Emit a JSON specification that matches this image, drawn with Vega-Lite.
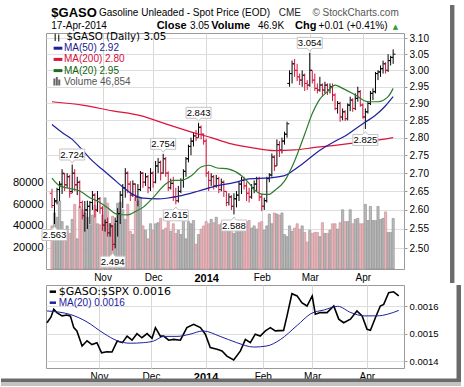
{
"$schema":"https://vega.github.io/schema/vega-lite/v6.json",
"padding":0,"spacing":0,"background":"white",
"config":{"font":"Liberation Sans","view":{"stroke":"#9a9a9a","strokeWidth":1},"axis":{"labelColor":"#000","tickColor":"#9a9a9a","gridColor":"#dedede","domain":false}},
"datasets":{
"bars":[
{"i":0,"o":2.645,"h":2.657,"l":2.605,"c":2.612,"v":40000,"d":"dn"},
{"i":1,"o":2.612,"h":2.632,"l":2.563,"c":2.625,"v":52000,"d":"up"},
{"i":2,"o":2.622,"h":2.66,"l":2.615,"c":2.655,"v":48000,"d":"up"},
{"i":3,"o":2.655,"h":2.678,"l":2.624,"c":2.67,"v":63000,"d":"up"},
{"i":4,"o":2.668,"h":2.711,"l":2.643,"c":2.7,"v":44000,"d":"up"},
{"i":5,"o":2.698,"h":2.7,"l":2.651,"c":2.668,"v":36000,"d":"dn"},
{"i":6,"o":2.668,"h":2.7,"l":2.66,"c":2.69,"v":40000,"d":"up"},
{"i":7,"o":2.69,"h":2.695,"l":2.633,"c":2.645,"v":33000,"d":"dn"},
{"i":8,"o":2.65,"h":2.724,"l":2.645,"c":2.7,"v":46000,"d":"up"},
{"i":9,"o":2.7,"h":2.711,"l":2.651,"c":2.668,"v":60000,"d":"dn"},
{"i":10,"o":2.668,"h":2.69,"l":2.64,"c":2.675,"v":28000,"d":"up"},
{"i":11,"o":2.675,"h":2.68,"l":2.605,"c":2.62,"v":58000,"d":"dn"},
{"i":12,"o":2.62,"h":2.625,"l":2.575,"c":2.585,"v":55000,"d":"dn"},
{"i":13,"o":2.585,"h":2.624,"l":2.543,"c":2.6,"v":52000,"d":"up"},
{"i":14,"o":2.6,"h":2.625,"l":2.55,"c":2.61,"v":48000,"d":"up"},
{"i":15,"o":2.61,"h":2.624,"l":2.563,"c":2.62,"v":41000,"d":"up"},
{"i":16,"o":2.62,"h":2.651,"l":2.6,"c":2.64,"v":50000,"d":"up"},
{"i":17,"o":2.64,"h":2.645,"l":2.58,"c":2.6,"v":59000,"d":"dn"},
{"i":18,"o":2.6,"h":2.651,"l":2.595,"c":2.63,"v":42000,"d":"up"},
{"i":19,"o":2.63,"h":2.635,"l":2.59,"c":2.605,"v":41000,"d":"dn"},
{"i":20,"o":2.605,"h":2.61,"l":2.545,"c":2.56,"v":50000,"d":"dn"},
{"i":21,"o":2.56,"h":2.575,"l":2.543,"c":2.567,"v":66000,"d":"up"},
{"i":22,"o":2.567,"h":2.58,"l":2.53,"c":2.54,"v":61000,"d":"dn"},
{"i":23,"o":2.54,"h":2.565,"l":2.53,"c":2.558,"v":42000,"d":"up"},
{"i":24,"o":2.555,"h":2.56,"l":2.494,"c":2.51,"v":49000,"d":"dn"},
{"i":25,"o":2.51,"h":2.58,"l":2.5,"c":2.57,"v":42000,"d":"up"},
{"i":26,"o":2.57,"h":2.605,"l":2.53,"c":2.59,"v":61000,"d":"up"},
{"i":27,"o":2.59,"h":2.651,"l":2.563,"c":2.64,"v":62000,"d":"up"},
{"i":28,"o":2.64,"h":2.67,"l":2.605,"c":2.66,"v":55000,"d":"up"},
{"i":29,"o":2.66,"h":2.714,"l":2.633,"c":2.7,"v":46000,"d":"up"},
{"i":30,"o":2.7,"h":2.705,"l":2.645,"c":2.67,"v":60000,"d":"dn"},
{"i":31,"o":2.67,"h":2.678,"l":2.624,"c":2.64,"v":35000,"d":"dn"},
{"i":32,"o":2.64,"h":2.68,"l":2.635,"c":2.67,"v":32000,"d":"up"},
{"i":33,"o":2.67,"h":2.672,"l":2.624,"c":2.635,"v":66000,"d":"dn"},
{"i":34,"o":2.635,"h":2.67,"l":2.61,"c":2.655,"v":63000,"d":"up"},
{"i":35,"o":2.655,"h":2.706,"l":2.651,"c":2.7,"v":66000,"d":"up"},
{"i":36,"o":2.7,"h":2.703,"l":2.66,"c":2.675,"v":40000,"d":"dn"},
{"i":37,"o":2.675,"h":2.7,"l":2.665,"c":2.69,"v":36000,"d":"up"},
{"i":38,"o":2.69,"h":2.695,"l":2.645,"c":2.66,"v":28000,"d":"dn"},
{"i":39,"o":2.66,"h":2.714,"l":2.651,"c":2.7,"v":42000,"d":"up"},
{"i":40,"o":2.7,"h":2.705,"l":2.66,"c":2.675,"v":36000,"d":"dn"},
{"i":41,"o":2.675,"h":2.734,"l":2.672,"c":2.72,"v":42000,"d":"up"},
{"i":42,"o":2.72,"h":2.742,"l":2.7,"c":2.73,"v":43000,"d":"up"},
{"i":43,"o":2.73,"h":2.735,"l":2.68,"c":2.7,"v":47000,"d":"dn"},
{"i":44,"o":2.7,"h":2.754,"l":2.698,"c":2.74,"v":36000,"d":"up"},
{"i":45,"o":2.74,"h":2.745,"l":2.69,"c":2.7,"v":38000,"d":"dn"},
{"i":46,"o":2.7,"h":2.705,"l":2.651,"c":2.66,"v":45000,"d":"dn"},
{"i":47,"o":2.66,"h":2.685,"l":2.655,"c":2.672,"v":35000,"d":"up"},
{"i":48,"o":2.672,"h":2.69,"l":2.624,"c":2.635,"v":42000,"d":"dn"},
{"i":49,"o":2.635,"h":2.66,"l":2.615,"c":2.625,"v":33000,"d":"dn"},
{"i":50,"o":2.625,"h":2.665,"l":2.62,"c":2.65,"v":36000,"d":"up"},
{"i":51,"o":2.65,"h":2.686,"l":2.645,"c":2.68,"v":32000,"d":"up"},
{"i":52,"o":2.68,"h":2.711,"l":2.66,"c":2.705,"v":48000,"d":"up"},
{"i":53,"o":2.705,"h":2.745,"l":2.69,"c":2.74,"v":28000,"d":"up"},
{"i":54,"o":2.74,"h":2.78,"l":2.73,"c":2.775,"v":44000,"d":"up"},
{"i":55,"o":2.775,"h":2.8,"l":2.75,"c":2.79,"v":42000,"d":"up"},
{"i":56,"o":2.79,"h":2.815,"l":2.775,"c":2.805,"v":45000,"d":"up"},
{"i":57,"o":2.805,"h":2.822,"l":2.79,"c":2.8,"v":23000,"d":"dn"},
{"i":58,"o":2.8,"h":2.843,"l":2.8,"c":2.83,"v":32000,"d":"up"},
{"i":59,"o":2.83,"h":2.835,"l":2.795,"c":2.81,"v":37000,"d":"dn"},
{"i":60,"o":2.81,"h":2.812,"l":2.78,"c":2.79,"v":40000,"d":"dn"},
{"i":61,"o":2.79,"h":2.797,"l":2.69,"c":2.7,"v":44000,"d":"dn"},
{"i":62,"o":2.7,"h":2.706,"l":2.651,"c":2.68,"v":42000,"d":"dn"},
{"i":63,"o":2.68,"h":2.7,"l":2.665,"c":2.69,"v":46000,"d":"up"},
{"i":64,"o":2.69,"h":2.695,"l":2.655,"c":2.665,"v":43000,"d":"dn"},
{"i":65,"o":2.665,"h":2.695,"l":2.66,"c":2.685,"v":48000,"d":"up"},
{"i":66,"o":2.685,"h":2.69,"l":2.645,"c":2.655,"v":41000,"d":"dn"},
{"i":67,"o":2.655,"h":2.685,"l":2.65,"c":2.675,"v":42000,"d":"up"},
{"i":68,"o":2.675,"h":2.68,"l":2.635,"c":2.65,"v":40000,"d":"dn"},
{"i":69,"o":2.65,"h":2.651,"l":2.61,"c":2.62,"v":38000,"d":"dn"},
{"i":70,"o":2.62,"h":2.645,"l":2.612,"c":2.635,"v":40000,"d":"up"},
{"i":71,"o":2.635,"h":2.64,"l":2.6,"c":2.61,"v":36000,"d":"dn"},
{"i":72,"o":2.61,"h":2.645,"l":2.588,"c":2.63,"v":33000,"d":"up"},
{"i":73,"o":2.63,"h":2.651,"l":2.607,"c":2.64,"v":39000,"d":"up"},
{"i":74,"o":2.64,"h":2.678,"l":2.624,"c":2.67,"v":42000,"d":"up"},
{"i":75,"o":2.67,"h":2.69,"l":2.643,"c":2.68,"v":38000,"d":"up"},
{"i":76,"o":2.68,"h":2.69,"l":2.655,"c":2.665,"v":40000,"d":"dn"},
{"i":77,"o":2.665,"h":2.675,"l":2.624,"c":2.645,"v":44000,"d":"dn"},
{"i":78,"o":2.645,"h":2.66,"l":2.62,"c":2.635,"v":45000,"d":"dn"},
{"i":79,"o":2.635,"h":2.67,"l":2.63,"c":2.66,"v":38000,"d":"up"},
{"i":80,"o":2.66,"h":2.68,"l":2.645,"c":2.67,"v":40000,"d":"up"},
{"i":81,"o":2.67,"h":2.69,"l":2.651,"c":2.685,"v":37000,"d":"up"},
{"i":82,"o":2.685,"h":2.69,"l":2.624,"c":2.635,"v":43000,"d":"dn"},
{"i":83,"o":2.635,"h":2.643,"l":2.597,"c":2.61,"v":44000,"d":"dn"},
{"i":84,"o":2.61,"h":2.633,"l":2.6,"c":2.625,"v":36000,"d":"up"},
{"i":85,"o":2.625,"h":2.69,"l":2.62,"c":2.685,"v":40000,"d":"up"},
{"i":86,"o":2.685,"h":2.7,"l":2.675,"c":2.695,"v":51000,"d":"up"},
{"i":87,"o":2.695,"h":2.755,"l":2.69,"c":2.745,"v":42000,"d":"up"},
{"i":88,"o":2.745,"h":2.75,"l":2.706,"c":2.72,"v":52000,"d":"dn"},
{"i":89,"o":2.72,"h":2.795,"l":2.72,"c":2.78,"v":51000,"d":"up"},
{"i":90,"o":2.78,"h":2.79,"l":2.745,"c":2.765,"v":50000,"d":"dn"},
{"i":91,"o":2.765,"h":2.8,"l":2.755,"c":2.79,"v":52000,"d":"up"},
{"i":92,"o":2.79,"h":2.817,"l":2.78,"c":2.81,"v":32000,"d":"up"},
{"i":93,"o":2.81,"h":2.846,"l":2.8,"c":2.84,"v":30000,"d":"up"},
{"i":94,"o":2.96,"h":3.0,"l":2.95,"c":2.99,"v":40000,"d":"up"},
{"i":95,"o":2.99,"h":3.03,"l":2.96,"c":3.02,"v":35000,"d":"up"},
{"i":96,"o":3.02,"h":3.035,"l":2.98,"c":3.0,"v":38000,"d":"dn"},
{"i":97,"o":3.0,"h":3.02,"l":2.967,"c":2.98,"v":42000,"d":"dn"},
{"i":98,"o":2.98,"h":2.99,"l":2.955,"c":2.97,"v":37000,"d":"dn"},
{"i":99,"o":2.97,"h":3.0,"l":2.95,"c":2.985,"v":40000,"d":"up"},
{"i":100,"o":2.985,"h":2.99,"l":2.937,"c":2.96,"v":34000,"d":"dn"},
{"i":101,"o":2.96,"h":2.97,"l":2.94,"c":2.955,"v":25000,"d":"dn"},
{"i":102,"o":2.955,"h":3.054,"l":2.95,"c":3.0,"v":36000,"d":"up"},
{"i":103,"o":3.0,"h":3.0,"l":2.96,"c":2.97,"v":33000,"d":"dn"},
{"i":104,"o":2.97,"h":2.99,"l":2.937,"c":2.945,"v":34000,"d":"dn"},
{"i":105,"o":2.945,"h":2.96,"l":2.93,"c":2.94,"v":34000,"d":"dn"},
{"i":106,"o":2.94,"h":2.98,"l":2.935,"c":2.955,"v":30000,"d":"up"},
{"i":107,"o":2.955,"h":2.96,"l":2.92,"c":2.94,"v":43000,"d":"dn"},
{"i":108,"o":2.94,"h":2.965,"l":2.93,"c":2.955,"v":33000,"d":"up"},
{"i":109,"o":2.955,"h":2.96,"l":2.925,"c":2.94,"v":33000,"d":"dn"},
{"i":110,"o":2.94,"h":2.96,"l":2.93,"c":2.95,"v":36000,"d":"up"},
{"i":111,"o":2.95,"h":2.96,"l":2.907,"c":2.925,"v":42000,"d":"dn"},
{"i":112,"o":2.925,"h":2.93,"l":2.88,"c":2.885,"v":42000,"d":"dn"},
{"i":113,"o":2.885,"h":2.907,"l":2.87,"c":2.9,"v":37000,"d":"up"},
{"i":114,"o":2.9,"h":2.905,"l":2.846,"c":2.86,"v":43000,"d":"dn"},
{"i":115,"o":2.86,"h":2.885,"l":2.85,"c":2.875,"v":55000,"d":"up"},
{"i":116,"o":2.875,"h":2.88,"l":2.848,"c":2.855,"v":44000,"d":"dn"},
{"i":117,"o":2.855,"h":2.9,"l":2.85,"c":2.895,"v":44000,"d":"up"},
{"i":118,"o":2.895,"h":2.92,"l":2.877,"c":2.91,"v":55000,"d":"up"},
{"i":119,"o":2.91,"h":2.915,"l":2.875,"c":2.885,"v":42000,"d":"dn"},
{"i":120,"o":2.885,"h":2.93,"l":2.88,"c":2.915,"v":46000,"d":"up"},
{"i":121,"o":2.915,"h":2.95,"l":2.905,"c":2.935,"v":47000,"d":"up"},
{"i":122,"o":2.935,"h":2.94,"l":2.89,"c":2.895,"v":42000,"d":"dn"},
{"i":123,"o":2.895,"h":2.9,"l":2.855,"c":2.86,"v":42000,"d":"dn"},
{"i":124,"o":2.86,"h":2.885,"l":2.825,"c":2.875,"v":60000,"d":"up"},
{"i":125,"o":2.875,"h":2.907,"l":2.87,"c":2.9,"v":45000,"d":"up"},
{"i":126,"o":2.9,"h":2.937,"l":2.895,"c":2.93,"v":58000,"d":"up"},
{"i":127,"o":2.93,"h":2.945,"l":2.91,"c":2.935,"v":45000,"d":"up"},
{"i":128,"o":2.935,"h":2.995,"l":2.93,"c":2.99,"v":45000,"d":"up"},
{"i":129,"o":2.99,"h":3.0,"l":2.97,"c":2.995,"v":58000,"d":"up"},
{"i":130,"o":2.995,"h":3.015,"l":2.98,"c":3.005,"v":46000,"d":"up"},
{"i":131,"o":3.005,"h":3.03,"l":2.99,"c":3.02,"v":47000,"d":"up"},
{"i":132,"o":3.02,"h":3.025,"l":2.99,"c":3.0,"v":53000,"d":"dn"},
{"i":133,"o":3.0,"h":3.05,"l":2.995,"c":3.03,"v":34000,"d":"up"},
{"i":134,"o":3.03,"h":3.045,"l":3.015,"c":3.04,"v":34000,"d":"up"},
{"i":135,"o":3.04,"h":3.065,"l":3.02,"c":3.05,"v":46854,"d":"up"}
],
"ma":[
{"s":"ma200","i":0,"v":2.905},{"s":"ma200","i":12,"v":2.895},{"s":"ma200","i":24,"v":2.878},{"s":"ma200","i":35,"v":2.864},{"s":"ma200","i":45,"v":2.84},{"s":"ma200","i":54,"v":2.819},{"s":"ma200","i":63,"v":2.8},{"s":"ma200","i":71,"v":2.782},{"s":"ma200","i":80,"v":2.77},{"s":"ma200","i":88,"v":2.763},{"s":"ma200","i":96,"v":2.765},{"s":"ma200","i":104,"v":2.772},{"s":"ma200","i":112,"v":2.778},{"s":"ma200","i":120,"v":2.785},{"s":"ma200","i":128,"v":2.792},{"s":"ma200","i":135,"v":2.8},
{"s":"ma50","i":0,"v":2.838},{"s":"ma50","i":4,"v":2.815},{"s":"ma50","i":8,"v":2.795},{"s":"ma50","i":12,"v":2.765},{"s":"ma50","i":16,"v":2.734},{"s":"ma50","i":20,"v":2.71},{"s":"ma50","i":24,"v":2.686},{"s":"ma50","i":28,"v":2.662},{"s":"ma50","i":32,"v":2.642},{"s":"ma50","i":36,"v":2.632},{"s":"ma50","i":42,"v":2.63},{"s":"ma50","i":50,"v":2.637},{"s":"ma50","i":58,"v":2.651},{"s":"ma50","i":65,"v":2.665},{"s":"ma50","i":72,"v":2.674},{"s":"ma50","i":78,"v":2.684},{"s":"ma50","i":86,"v":2.687},{"s":"ma50","i":92,"v":2.693},{"s":"ma50","i":95,"v":2.705},{"s":"ma50","i":98,"v":2.72},{"s":"ma50","i":102,"v":2.742},{"s":"ma50","i":106,"v":2.764},{"s":"ma50","i":112,"v":2.79},{"s":"ma50","i":116,"v":2.805},{"s":"ma50","i":120,"v":2.825},{"s":"ma50","i":124,"v":2.845},{"s":"ma50","i":128,"v":2.865},{"s":"ma50","i":132,"v":2.893},{"s":"ma50","i":135,"v":2.92},
{"s":"ma20","i":0,"v":2.686},{"s":"ma20","i":3,"v":2.665},{"s":"ma20","i":7,"v":2.658},{"s":"ma20","i":11,"v":2.651},{"s":"ma20","i":15,"v":2.633},{"s":"ma20","i":18,"v":2.624},{"s":"ma20","i":22,"v":2.606},{"s":"ma20","i":26,"v":2.588},{"s":"ma20","i":30,"v":2.587},{"s":"ma20","i":33,"v":2.596},{"s":"ma20","i":36,"v":2.607},{"s":"ma20","i":40,"v":2.633},{"s":"ma20","i":45,"v":2.67},{"s":"ma20","i":48,"v":2.68},{"s":"ma20","i":51,"v":2.68},{"s":"ma20","i":55,"v":2.692},{"s":"ma20","i":59,"v":2.717},{"s":"ma20","i":62,"v":2.722},{"s":"ma20","i":65,"v":2.715},{"s":"ma20","i":70,"v":2.711},{"s":"ma20","i":75,"v":2.693},{"s":"ma20","i":78,"v":2.672},{"s":"ma20","i":80,"v":2.655},{"s":"ma20","i":84,"v":2.642},{"s":"ma20","i":86,"v":2.642},{"s":"ma20","i":88,"v":2.652},{"s":"ma20","i":92,"v":2.678},{"s":"ma20","i":96,"v":2.734},{"s":"ma20","i":100,"v":2.81},{"s":"ma20","i":103,"v":2.87},{"s":"ma20","i":106,"v":2.913},{"s":"ma20","i":109,"v":2.935},{"s":"ma20","i":112,"v":2.955},{"s":"ma20","i":115,"v":2.945},{"s":"ma20","i":120,"v":2.925},{"s":"ma20","i":125,"v":2.905},{"s":"ma20","i":129,"v":2.905},{"s":"ma20","i":133,"v":2.92},{"s":"ma20","i":135,"v":2.945}
],
"notes":[
{"i":1,"p":2.563,"k":"lo"},{"i":8,"p":2.724,"k":"hi"},{"i":24,"p":2.494,"k":"lo"},{"i":44,"p":2.754,"k":"hi"},{"i":49,"p":2.615,"k":"lo"},{"i":58,"p":2.843,"k":"hi"},{"i":72,"p":2.588,"k":"lo"},{"i":102,"p":3.054,"k":"hi"},{"i":124,"p":2.825,"k":"lo"}
],
"ratio":[
{"i":0,"v":0.00154},{"i":1.5,"v":0.00156},{"i":2.6,"v":0.001589},{"i":3.8,"v":0.001577},{"i":5.8,"v":0.001565},{"i":7.7,"v":0.001568},{"i":9,"v":0.001564},{"i":10.3,"v":0.001522},{"i":11.5,"v":0.00151},{"i":13.5,"v":0.001455},{"i":15.4,"v":0.001474},{"i":17.3,"v":0.00146},{"i":19.2,"v":0.001467},{"i":21,"v":0.00143},{"i":23,"v":0.001434},{"i":25,"v":0.001433},{"i":27,"v":0.001473},{"i":29,"v":0.001467},{"i":30.8,"v":0.001491},{"i":32.7,"v":0.001476},{"i":34.6,"v":0.0015},{"i":36.5,"v":0.001485},{"i":38.5,"v":0.0015},{"i":40.4,"v":0.001483},{"i":41.7,"v":0.001522},{"i":43.6,"v":0.001491},{"i":44.9,"v":0.001491},{"i":46.8,"v":0.001476},{"i":48.7,"v":0.001479},{"i":51.3,"v":0.001476},{"i":53.8,"v":0.001522},{"i":56.4,"v":0.001534},{"i":59,"v":0.001522},{"i":60.9,"v":0.001498},{"i":62.8,"v":0.001449},{"i":65.4,"v":0.001443},{"i":67.3,"v":0.001437},{"i":69.2,"v":0.001418},{"i":71.8,"v":0.001404},{"i":74.4,"v":0.001437},{"i":76.3,"v":0.001479},{"i":78.2,"v":0.001467},{"i":80.1,"v":0.001498},{"i":82,"v":0.001491},{"i":84,"v":0.00151},{"i":85.9,"v":0.001522},{"i":87.8,"v":0.00151},{"i":91,"v":0.001512},{"i":92.3,"v":0.001564},{"i":94.2,"v":0.001646},{"i":96.2,"v":0.001638},{"i":98,"v":0.001613},{"i":100,"v":0.001601},{"i":102,"v":0.001638},{"i":103.2,"v":0.001571},{"i":105.1,"v":0.001577},{"i":107.7,"v":0.001577},{"i":110.3,"v":0.001601},{"i":112.2,"v":0.001553},{"i":114.1,"v":0.00154},{"i":116.7,"v":0.001553},{"i":119.2,"v":0.001583},{"i":121.2,"v":0.001565},{"i":123.1,"v":0.001516},{"i":124.4,"v":0.001512},{"i":126.3,"v":0.001558},{"i":128.2,"v":0.001601},{"i":129.5,"v":0.001607},{"i":131.4,"v":0.00165},{"i":133.3,"v":0.001653},{"i":135.3,"v":0.001638}
],
"ratioma":[
{"i":0,"v":0.001583},{"i":9,"v":0.00157},{"i":15,"v":0.001545},{"i":22,"v":0.0015},{"i":27,"v":0.001474},{"i":32,"v":0.001465},{"i":37,"v":0.001467},{"i":41,"v":0.001473},{"i":45,"v":0.00149},{"i":50,"v":0.00149},{"i":55,"v":0.001498},{"i":60,"v":0.00151},{"i":66.6,"v":0.00149},{"i":73,"v":0.001467},{"i":79.5,"v":0.001451},{"i":84.6,"v":0.001455},{"i":89.7,"v":0.001478},{"i":96.2,"v":0.00153},{"i":101.5,"v":0.001573},{"i":106.7,"v":0.001587},{"i":111.8,"v":0.0016},{"i":116.9,"v":0.001577},{"i":122,"v":0.001565},{"i":127,"v":0.001565},{"i":131,"v":0.001571},{"i":135.3,"v":0.001585}
]
},
"vconcat":[
{
"width":358,"height":236,
"resolve":{"scale":{"y":"independent"}},
"layer":[
{"data":{"name":"bars"},
 "mark":{"type":"bar","width":2.2,"strokeWidth":0.6},
 "encoding":{
  "x":{"field":"i","type":"quantitative","title":null,"scale":{"domain":[-0.3846,137.3077],"nice":false,"zero":false},
   "axis":{"values":[20,40,61,83,102,123],"labelExpr":"datum.value==20?'Nov':datum.value==40?'Dec':datum.value==61?'2014':datum.value==83?'Feb':datum.value==102?'Mar':'Apr'","labelFontSize":{"condition":{"test":"datum.value==61","value":11},"value":10},"labelFontWeight":{"condition":{"test":"datum.value==61","value":"bold"},"value":"normal"},"ticks":false,"labelPadding":3,"grid":true,"gridColor":"#d8d8d8","minExtent":13,"maxExtent":13,"title":null}},
  "y":{"field":"v","type":"quantitative","title":null,"scale":{"domain":[0,219000],"nice":false},
   "axis":{"orient":"left","values":[20000,40000,60000,80000],"format":"d","grid":false,"ticks":false,"labelPadding":3,"minExtent":45,"maxExtent":45,"labelFontSize":11,"title":null}},
  "fill":{"condition":{"test":"datum.d==='dn'","value":"#e7b6bb"},"value":"#bababa"},
  "stroke":{"condition":{"test":"datum.d==='dn'","value":"#c98b93"},"value":"#8c8c8c"}
 }},
{"layer":[
 {"data":{"name":"bars"},"mark":{"type":"rule","strokeWidth":1},
  "encoding":{
   "x":{"field":"i","type":"quantitative","title":null},
   "y":{"field":"l","type":"quantitative","title":null,"scale":{"type":"log","domain":[2.4475,3.1169],"nice":false},
    "axis":{"orient":"right","values":[2.5,2.55,2.6,2.65,2.7,2.75,2.8,2.85,2.9,2.95,3.0,3.05,3.1],"format":".2f","grid":true,"tickSize":3,"labelPadding":2,"labelFontSize":10,"title":null}},
   "y2":{"field":"h"},
   "color":{"condition":{"test":"datum.d==='dn'","value":"#d4143c"},"value":"#000000"}}},
 {"data":{"name":"bars"},"mark":{"type":"tick","orient":"horizontal","size":2,"thickness":1,"xOffset":-1.3,"opacity":1},
  "encoding":{"x":{"field":"i","type":"quantitative","title":null},"y":{"field":"o","type":"quantitative","title":null},
   "color":{"condition":{"test":"datum.d==='dn'","value":"#d4143c"},"value":"#000000"}}},
 {"data":{"name":"bars"},"mark":{"type":"tick","orient":"horizontal","size":2,"thickness":1,"xOffset":1.3,"opacity":1},
  "encoding":{"x":{"field":"i","type":"quantitative","title":null},"y":{"field":"c","type":"quantitative","title":null},
   "color":{"condition":{"test":"datum.d==='dn'","value":"#d4143c"},"value":"#000000"}}},
 {"data":{"name":"ma"},"transform":[{"filter":"datum.s==='ma200'"}],"mark":{"type":"line","color":"#dc143c","strokeWidth":1.2,"interpolate":"monotone"},
  "encoding":{"x":{"field":"i","type":"quantitative","title":null},"y":{"field":"v","type":"quantitative","title":null}}},
 {"data":{"name":"ma"},"transform":[{"filter":"datum.s==='ma50'"}],"mark":{"type":"line","color":"#1f1fa0","strokeWidth":1.2,"interpolate":"monotone"},
  "encoding":{"x":{"field":"i","type":"quantitative","title":null},"y":{"field":"v","type":"quantitative","title":null}}},
 {"data":{"name":"ma"},"transform":[{"filter":"datum.s==='ma20'"}],"mark":{"type":"line","color":"#2a7d2a","strokeWidth":1.2,"interpolate":"monotone"},
  "encoding":{"x":{"field":"i","type":"quantitative","title":null},"y":{"field":"v","type":"quantitative","title":null}}},
 {"data":{"name":"notes"},"transform":[{"filter":"datum.k==='hi'"}],
  "mark":{"type":"point","shape":"M-1,-0.44L1,-0.44L1,0.44L0.2,0.44L0,0.68L-0.2,0.44L-1,0.44Z","size":625,"filled":true,"fill":"#ffffff","stroke":"#c4c4c4","strokeWidth":1,"opacity":1,"yOffset":-10},
  "encoding":{"x":{"field":"i","type":"quantitative","title":null},"y":{"field":"p","type":"quantitative","title":null}}},
 {"data":{"name":"notes"},"transform":[{"filter":"datum.k==='hi'"}],
  "mark":{"type":"text","fontSize":9.5,"yOffset":-10,"baseline":"middle","align":"center","color":"#000"},
  "encoding":{"x":{"field":"i","type":"quantitative","title":null},"y":{"field":"p","type":"quantitative","title":null},"text":{"field":"p","type":"quantitative","format":".3f"}}},
 {"data":{"name":"notes"},"transform":[{"filter":"datum.k==='lo'"}],
  "mark":{"type":"point","shape":"M-1,0.44L1,0.44L1,-0.44L0.2,-0.44L0,-0.68L-0.2,-0.44L-1,-0.44Z","size":625,"filled":true,"fill":"#ffffff","stroke":"#c4c4c4","strokeWidth":1,"opacity":1,"yOffset":11},
  "encoding":{"x":{"field":"i","type":"quantitative","title":null},"y":{"field":"p","type":"quantitative","title":null}}},
 {"data":{"name":"notes"},"transform":[{"filter":"datum.k==='lo'"}],
  "mark":{"type":"text","fontSize":9.5,"yOffset":11,"baseline":"middle","align":"center","color":"#000"},
  "encoding":{"x":{"field":"i","type":"quantitative","title":null},"y":{"field":"p","type":"quantitative","title":null},"text":{"field":"p","type":"quantitative","format":".3f"}}},
 {"data":{"values":[{}]},"mark":{"type":"rule","color":"#000","strokeWidth":1},"encoding":{"x":{"datum":1.2692},"y":{"datum":3.11432},"y2":{"datum":3.09142}}},
 {"data":{"values":[{}]},"mark":{"type":"rule","color":"#000","strokeWidth":1},"encoding":{"x":{"datum":2.6923},"y":{"datum":3.11209},"y2":{"datum":3.08985}}},
 {"data":{"values":[{}]},"mark":{"type":"text","text":"$GASO (Daily) 3.05","font":"DejaVu Sans","fontSize":10.3,"align":"left","baseline":"middle","color":"#000"},"encoding":{"x":{"datum":5.7692},"y":{"datum":3.10413}}},
 {"data":{"values":[{}]},"mark":{"type":"rule","color":"#1f1fa0","strokeWidth":3},"encoding":{"x":{"datum":0.6538},"x2":{"datum":4.1154},"y":{"datum":3.0687}}},
 {"data":{"values":[{}]},"mark":{"type":"text","text":"MA(50) 2.92","fontSize":10,"align":"left","baseline":"middle","color":"#1a1a8c"},"encoding":{"x":{"datum":4.7308},"y":{"datum":3.0687}}},
 {"data":{"values":[{}]},"mark":{"type":"rule","color":"#dc143c","strokeWidth":3},"encoding":{"x":{"datum":0.6538},"x2":{"datum":4.1154},"y":{"datum":3.0337}}},
 {"data":{"values":[{}]},"mark":{"type":"text","text":"MA(200) 2.80","fontSize":10,"align":"left","baseline":"middle","color":"#d0103a"},"encoding":{"x":{"datum":4.7308},"y":{"datum":3.0337}}},
 {"data":{"values":[{}]},"mark":{"type":"rule","color":"#1d6e1d","strokeWidth":3},"encoding":{"x":{"datum":0.6538},"x2":{"datum":4.1154},"y":{"datum":2.99908}}},
 {"data":{"values":[{}]},"mark":{"type":"text","text":"MA(20) 2.95","fontSize":10,"align":"left","baseline":"middle","color":"#0f640f"},"encoding":{"x":{"datum":4.7308},"y":{"datum":2.99908}}},
 {"data":{"values":[{}]},"mark":{"type":"rule","color":"#666","strokeWidth":2},"encoding":{"x":{"datum":0.9615},"y":{"datum":2.9749},"y2":{"datum":2.95364}}},
 {"data":{"values":[{}]},"mark":{"type":"rule","color":"#666","strokeWidth":2},"encoding":{"x":{"datum":1.9231},"y":{"datum":2.97948},"y2":{"datum":2.95364}}},
 {"data":{"values":[{}]},"mark":{"type":"rule","color":"#666","strokeWidth":2},"encoding":{"x":{"datum":2.8846},"y":{"datum":2.97186},"y2":{"datum":2.95364}}},
 {"data":{"values":[{}]},"mark":{"type":"text","text":"Volume 46,854","fontSize":10,"align":"left","baseline":"middle","color":"#555"},"encoding":{"x":{"datum":4.7308},"y":{"datum":2.96486}}},
 {"data":{"values":[{}]},"mark":{"type":"text","text":"$GASO","fontSize":13,"fontWeight":"bold","align":"left","baseline":"alphabetic","color":"#000"},"encoding":{"x":{"datum":-0.2692},"y":{"datum":3.1684}}},
 {"data":{"values":[{}]},"mark":{"type":"text","text":"Gasoline Unleaded - Spot Price (EOD)","fontSize":10,"align":"left","baseline":"alphabetic","color":"#000"},"encoding":{"x":{"datum":18.5769},"y":{"datum":3.17163}}},
 {"data":{"values":[{}]},"mark":{"type":"text","text":"CME","fontSize":10,"align":"left","baseline":"alphabetic","color":"#222"},"encoding":{"x":{"datum":89.7308},"y":{"datum":3.17163}}},
 {"data":{"values":[{}]},"mark":{"type":"text","text":"© StockCharts.com","fontSize":10,"align":"right","baseline":"alphabetic","color":"#555"},"encoding":{"x":{"datum":137.1923},"y":{"datum":3.17163}}},
 {"data":{"values":[{}]},"mark":{"type":"text","text":"17-Apr-2014","fontSize":10,"align":"left","baseline":"alphabetic","color":"#000"},"encoding":{"x":{"datum":-0.2692},"y":{"datum":3.13128}}},
 {"data":{"values":[{}]},"mark":{"type":"text","text":"Close","fontSize":11,"fontWeight":"bold","align":"left","baseline":"alphabetic","color":"#000"},"encoding":{"x":{"datum":41.4231},"y":{"datum":3.13128}}},
 {"data":{"values":[{}]},"mark":{"type":"text","text":"3.05","fontSize":10,"align":"left","baseline":"alphabetic","color":"#000"},"encoding":{"x":{"datum":54.6},"y":{"datum":3.13128}}},
 {"data":{"values":[{}]},"mark":{"type":"text","text":"Volume","fontSize":11,"fontWeight":"bold","align":"left","baseline":"alphabetic","color":"#000"},"encoding":{"x":{"datum":63.0},"y":{"datum":3.13128}}},
 {"data":{"values":[{}]},"mark":{"type":"text","text":"46.9K","fontSize":10,"align":"left","baseline":"alphabetic","color":"#000"},"encoding":{"x":{"datum":81.5},"y":{"datum":3.13128}}},
 {"data":{"values":[{}]},"mark":{"type":"text","text":"Chg","fontSize":11,"fontWeight":"bold","align":"left","baseline":"alphabetic","color":"#000"},"encoding":{"x":{"datum":96.1538},"y":{"datum":3.13128}}},
 {"data":{"values":[{}]},"mark":{"type":"text","text":"+0.01 (+0.41%)","fontSize":10,"align":"left","baseline":"alphabetic","color":"#000"},"encoding":{"x":{"datum":105.5},"y":{"datum":3.13128}}},
 {"data":{"values":[{}]},"mark":{"type":"text","text":"▲","font":"DejaVu Sans","fontSize":7,"align":"center","baseline":"alphabetic","color":"#2a9d2a"},"encoding":{"x":{"datum":135.8846},"y":{"datum":3.13128}}},
 {"data":{"values":[{}]},"mark":{"type":"rect","fill":"#6b6b6b"},"encoding":{"x":{"datum":157.5},"x2":{"datum":159.2308},"y":{"datum":3.20759},"y2":{"datum":2.41255}}},
 {"data":{"values":[{}]},"mark":{"type":"rect","fill":"transparent"},"encoding":{"x":{"datum":-19.1923},"x2":{"datum":-19.1923},"y":{"datum":3.22042},"y2":{"datum":3.22042}}}
]}
]
},
{
"width":358,"height":83,
"layer":[
 {"data":{"name":"ratio"},"mark":{"type":"line","color":"#000","strokeWidth":1.6},
  "encoding":{
   "x":{"field":"i","type":"quantitative","title":null,"scale":{"domain":[-0.3846,137.3077],"nice":false,"zero":false},
    "axis":{"values":[20,40,61,83,102,123],"labelExpr":"datum.value==20?'Nov':datum.value==40?'Dec':datum.value==61?'2014':datum.value==83?'Feb':datum.value==102?'Mar':'Apr'","labelFontSize":{"condition":{"test":"datum.value==61","value":11},"value":10},"labelFontWeight":{"condition":{"test":"datum.value==61","value":"bold"},"value":"normal"},"ticks":false,"labelPadding":3,"grid":true,"gridColor":"#d8d8d8","title":null}},
   "y":{"field":"v","type":"quantitative","title":null,"scale":{"domain":[0.00137441,0.00167788],"nice":false,"zero":false},
    "axis":{"orient":"right","values":[0.0014,0.0015,0.0016],"format":".4f","grid":true,"tickSize":3,"labelPadding":2,"labelFontSize":9.5,"title":null}}}},
 {"data":{"name":"ratioma"},"mark":{"type":"line","color":"#1f1fa0","strokeWidth":1,"interpolate":"monotone"},
  "encoding":{"x":{"field":"i","type":"quantitative","title":null},"y":{"field":"v","type":"quantitative","title":null}}},
 {"data":{"values":[{}]},"mark":{"type":"rule","color":"#000","strokeWidth":2.5},"encoding":{"x":{"datum":1.0385},"x2":{"datum":3.4615},"y":{"datum":0.00165338}}},
 {"data":{"values":[{}]},"mark":{"type":"text","text":"$GASO:$SPX 0.0016","font":"DejaVu Sans","fontSize":11,"align":"left","baseline":"middle","color":"#000"},"encoding":{"x":{"datum":4.5},"y":{"datum":0.00165338}}},
 {"data":{"values":[{}]},"mark":{"type":"rule","color":"#1f1fa0","strokeWidth":2.5},"encoding":{"x":{"datum":1.0385},"x2":{"datum":3.4615},"y":{"datum":0.00161316}}},
 {"data":{"values":[{}]},"mark":{"type":"text","text":"MA(20) 0.0016","fontSize":10,"align":"left","baseline":"middle","color":"#1a1a9c"},"encoding":{"x":{"datum":4.5},"y":{"datum":0.00161316}}},
 {"data":{"values":[{}]},"mark":{"type":"rect","fill":"#6b6b6b"},"encoding":{"x":{"datum":157.5},"x2":{"datum":159.2308},"y":{"datum":0.00167788},"y2":{"datum":0.0013159}}},
 {"data":{"values":[{}]},"mark":{"type":"rect","fill":"#6b6b6b"},"encoding":{"x":{"datum":-17.6923},"x2":{"datum":159.2308},"y":{"datum":0.00133601},"y2":{"datum":0.00132322}}},
 {"data":{"values":[{}]},"mark":{"type":"rect","fill":"#c2c2c2"},"encoding":{"x":{"datum":-17.6923},"x2":{"datum":159.2308},"y":{"datum":0.00132322},"y2":{"datum":0.00130859}}}
]
}
]
}
